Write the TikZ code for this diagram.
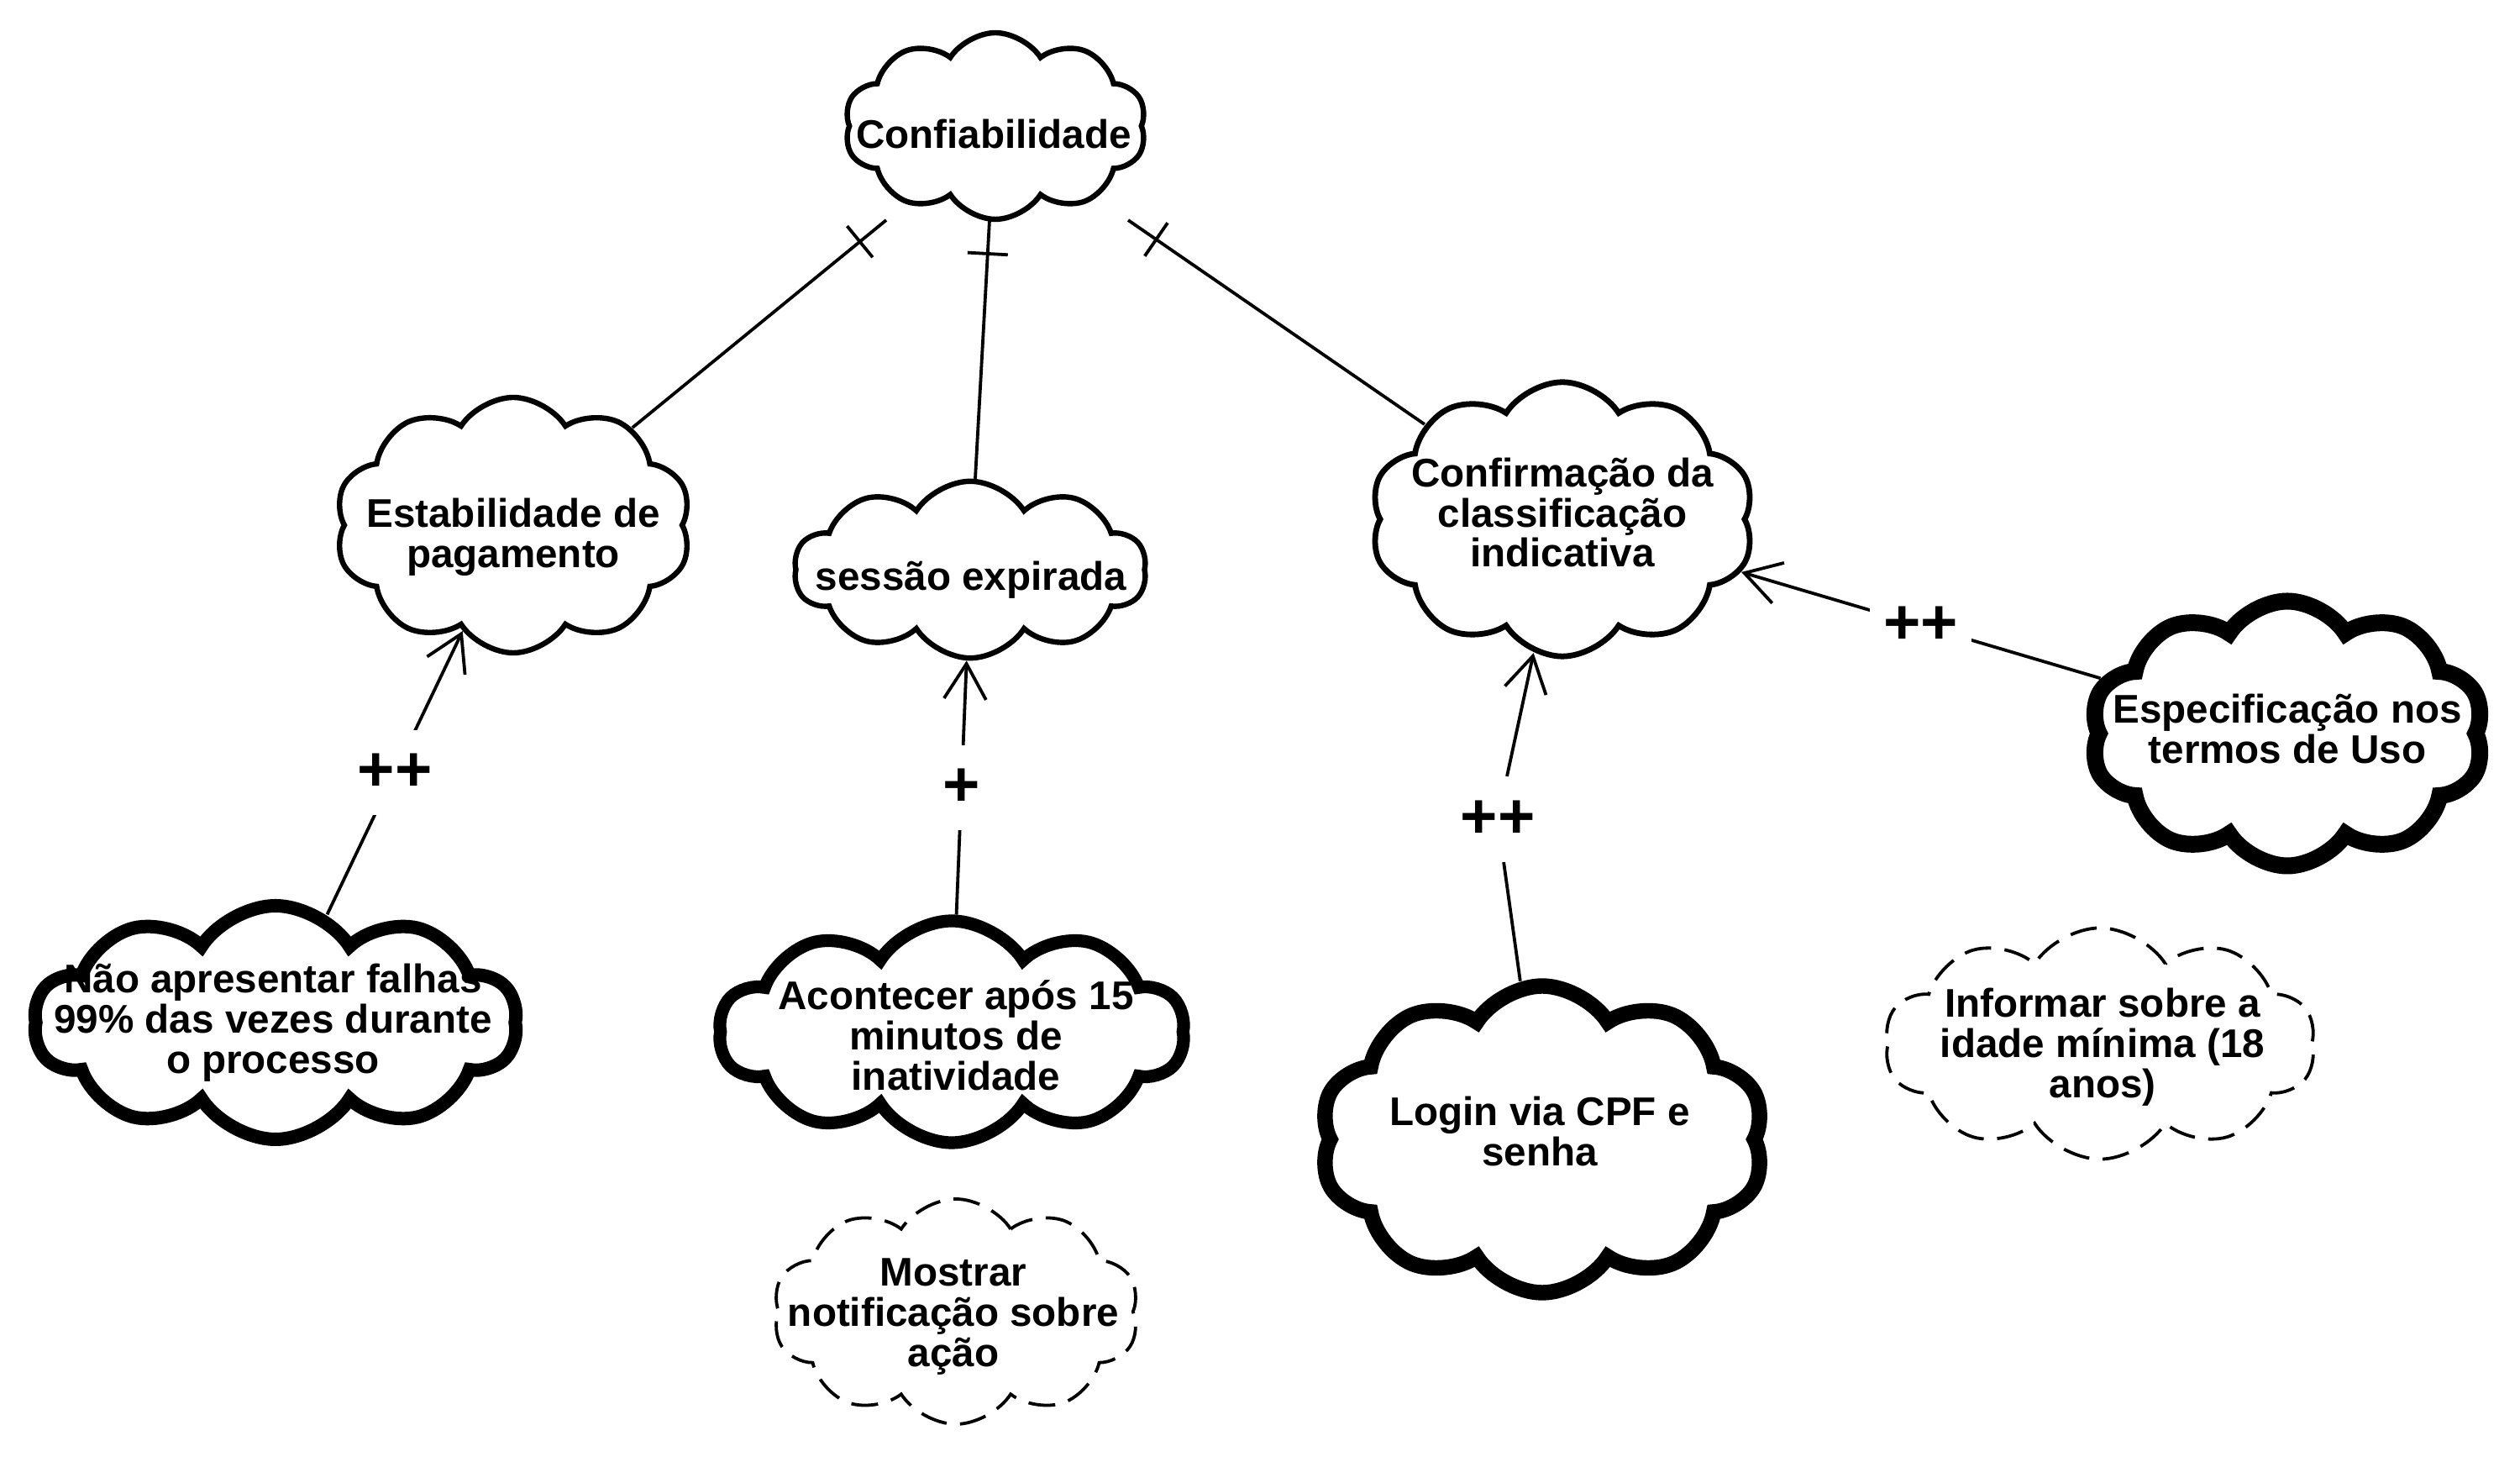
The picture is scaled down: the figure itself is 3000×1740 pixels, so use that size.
\documentclass[tikz,border=0pt]{standalone}
\usepackage{fontspec}
\setmainfont{Liberation Sans}
\usetikzlibrary{shapes.symbols,arrows.meta,decorations.markings}
\begin{document}
\begin{tikzpicture}[x=0.25pt,y=-0.25pt,
  softgoal/.style={cloud, cloud puffs=10, cloud puff arc=115, cloud ignores aspect,
    draw=black, fill=white, inner sep=0pt, line width=1.6pt},
  thickgoal/.style={softgoal, line width=3.8pt},
  dashgoal/.style={softgoal, line width=0.95pt, dash pattern=on 8pt off 4pt},
  txt/.style={align=center, font=\fontsize{11.9}{12}\selectfont\bfseries, inner sep=0pt},
  contrib/.style={line width=0.95pt, -{Straight Barb[length=10.5pt, width=12.5pt]}},
  plainlink/.style={line width=0.95pt},
  clabel/.style={font=\fontsize{19}{19}\selectfont\bfseries, fill=white, inner xsep=4pt, inner ysep=7pt},
  decomp/.style={line width=0.95pt, postaction={decorate},
    decoration={markings, mark=at position -10pt with {\draw[line width=0.95pt] (0,-6pt) -- (0,6pt);}}},
]
\path[use as bounding box, fill=white] (0,0) rectangle (3000,1740);

% clouds
\node[softgoal, minimum width=89.9pt, minimum height=55.5pt] (c1) at (1185,150) {};
\node[softgoal, minimum width=106.1pt, minimum height=76pt] (c2) at (611,625) {};
\node[softgoal, minimum width=104.9pt, minimum height=52.6pt] (c3) at (1155,678) {};
\node[softgoal, line width=1.7pt, minimum width=114.4pt, minimum height=81.6pt] (c4) at (1860,618) {};
\node[thickgoal, line width=5pt, minimum width=117.25pt, minimum height=78.75pt] (c5) at (2723,873) {};
\node[thickgoal, line width=4pt, minimum width=143.75pt, minimum height=69.5pt] (c6) at (328,1217) {};
\node[thickgoal, line width=3.8pt, minimum width=138.5pt, minimum height=66pt] (c7) at (1133,1228) {};
\node[thickgoal, line width=4.6pt, minimum width=132.5pt, minimum height=91.25pt] (c8) at (1836,1356) {};
\node[dashgoal, minimum width=109pt, minimum height=67pt] (c9) at (1138,1561) {};
\node[dashgoal, minimum width=128.3pt, minimum height=68.8pt] (c10) at (2500,1242) {};

% texts
\node[txt] (t1) at (1183,160) {Confiabilidade};
\node[txt] (t2) at (611,639) {Estabilidade de\\pagamento};
\node[txt] (t3) at (1156,690) {sessão expirada};
\node[txt] (t4) at (1860,610) {Confirmação da\\classificação\\indicativa};
\node[txt] (t5) at (2723,867) {Especificação nos\\termos de Uso};
\node[txt] (t6) at (325,1217) {Não apresentar falhas\\99\% das vezes durante\\o processo};
\node[txt] (t7) at (1138,1232) {Acontecer após 15\\minutos de\\inatividade};
\node[txt] (t8) at (1833,1346) {Login via CPF e\\senha};
\node[txt] (t9) at (1135,1567) {Mostrar\\notificação sobre\\ação};
\node[txt] (t10) at (2503,1246) {Informar sobre a\\idade mínima (18\\anos)};

% ends of the decomposition links below Confiabilidade
\coordinate (e2) at (1055,262);
\coordinate (e3) at (1178,262);
\coordinate (e4) at (1343,262);

% decomposition links
\draw[decomp] (c2) -- (e2);
\draw[decomp] (c3) -- (e3);
\draw[decomp] (c4) -- (e4);

% contribution links
\draw[contrib] (c6) -- node[clabel] (l6) {++} (c2);
\draw[contrib] (c7) -- node[clabel] (l7) {+} (c3);
\draw[contrib] (c5) -- node[clabel] (l5) {++} (c4);
\node[clabel] (l8) at (1783,975) {++};
\draw[plainlink] (c8) -- (l8);
\draw[contrib] (l8) -- (c4);
\end{tikzpicture}
\end{document}
